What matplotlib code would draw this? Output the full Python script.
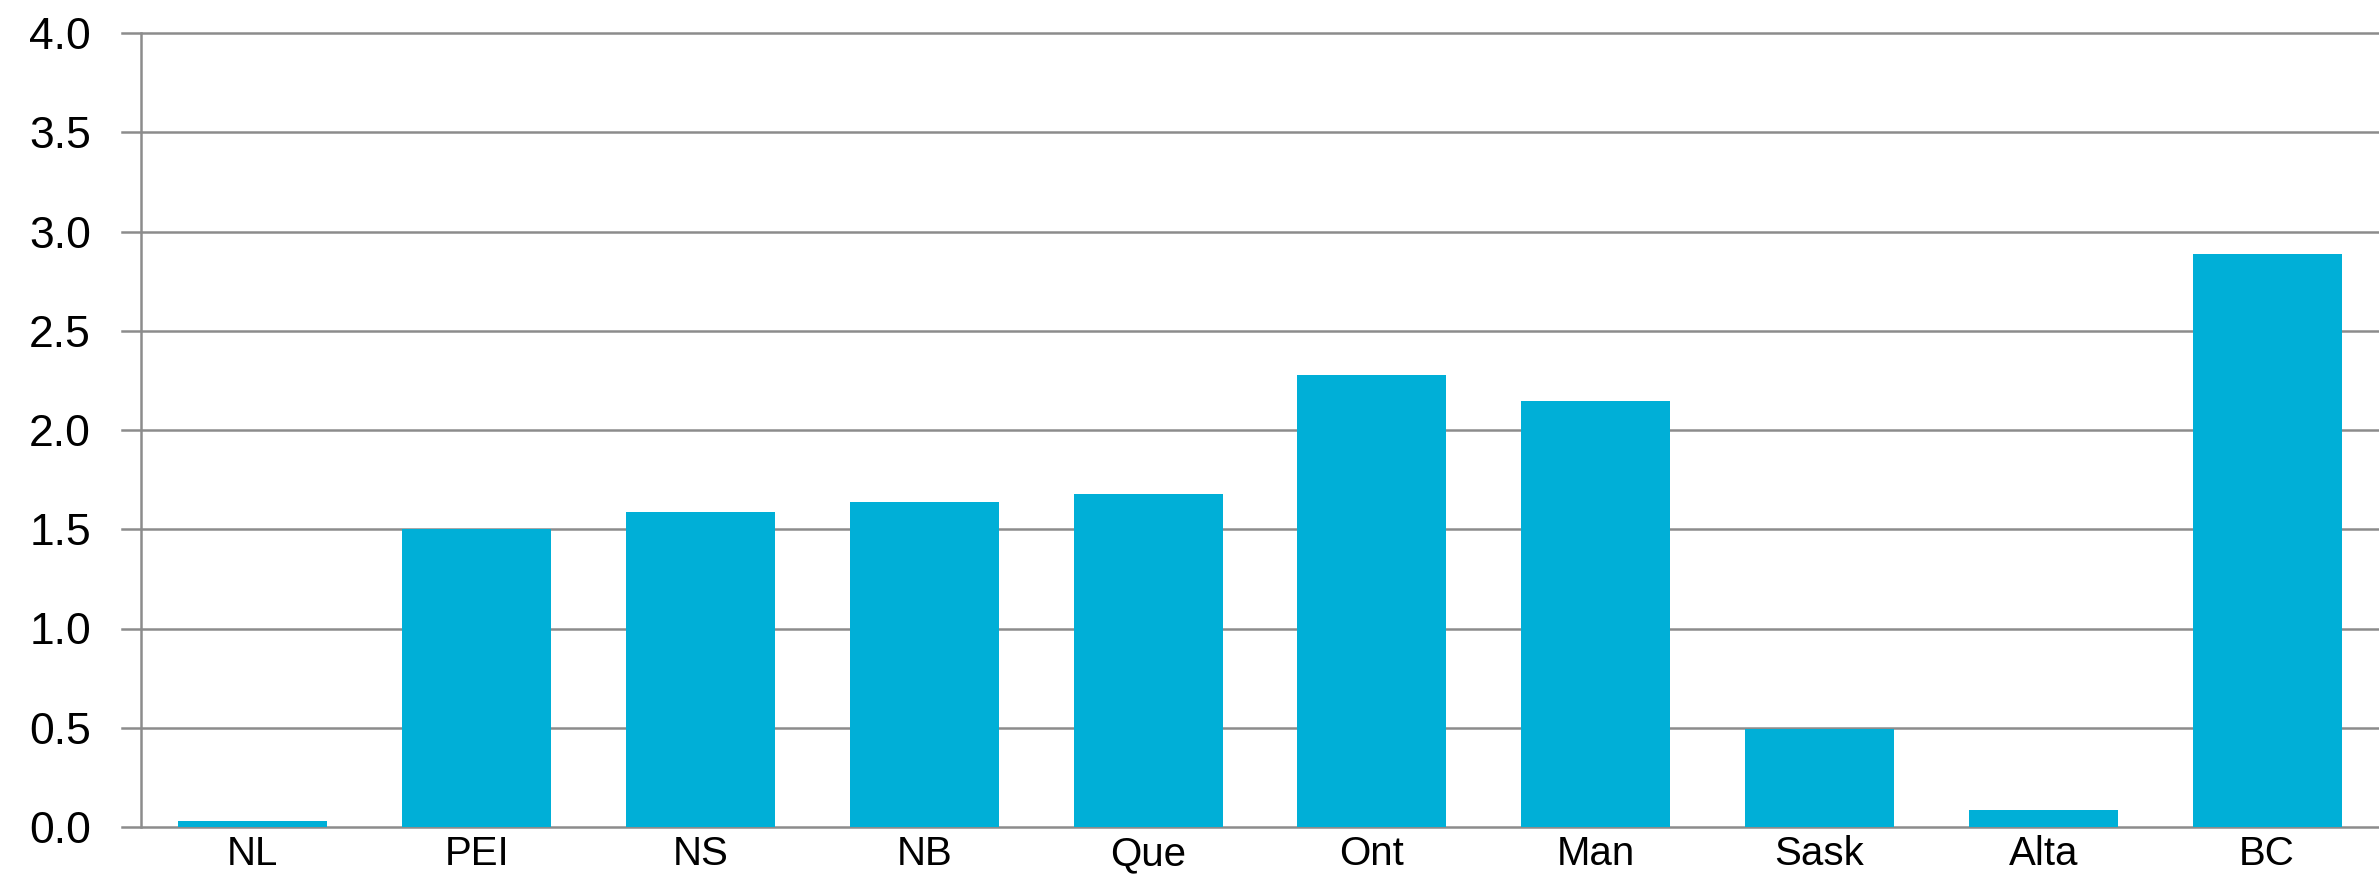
import matplotlib
matplotlib.use("Agg")
import matplotlib.pyplot as plt

provinces = ["NL", "PEI", "NS", "NB", "Que", "Ont", "Man", "Sask", "Alta", "BC"]
values = [0.03, 1.50, 1.585, 1.635, 1.678, 2.277, 2.148, 0.495, 0.086, 2.889]
yticks = [0.0, 0.5, 1.0, 1.5, 2.0, 2.5, 3.0, 3.5, 4.0]

BAR = "#00AFD7"
GRID = "#8c8c8c"

plt.rcParams["font.family"] = ["Liberation Sans", "DejaVu Sans"]

fig = plt.figure(figsize=(23.79, 8.83), dpi=100)
ax = fig.add_axes([141 / 2379, 1 - 827 / 883, 1 - 141 / 2379, (827 - 33) / 883])

x = range(len(provinces))
ax.bar(x, values, width=0.665, color=BAR, zorder=3)

ax.set_xlim(-0.5, len(provinces) - 0.5)
ax.set_ylim(0, 4.0)
ax.set_yticks(yticks)
ax.set_yticklabels([f"{v:.1f}" for v in yticks])
ax.set_xticks(list(x))
ax.set_xticklabels(provinces)

# gridlines start left of the spine, like outward tick marks
for v in yticks:
    ax.axhline(v, xmin=-19 / 2238, xmax=1, color=GRID, lw=1.8,
               clip_on=False, zorder=1)

for side in ("top", "right", "bottom"):
    ax.spines[side].set_visible(False)
ax.spines["left"].set_color(GRID)
ax.spines["left"].set_linewidth(1.8)

ax.tick_params(axis="y", length=0, pad=36, labelsize=32, labelcolor="black")
ax.tick_params(axis="x", length=0, pad=6, labelsize=29, labelcolor="black")

fig.savefig("out.png", dpi=100)
